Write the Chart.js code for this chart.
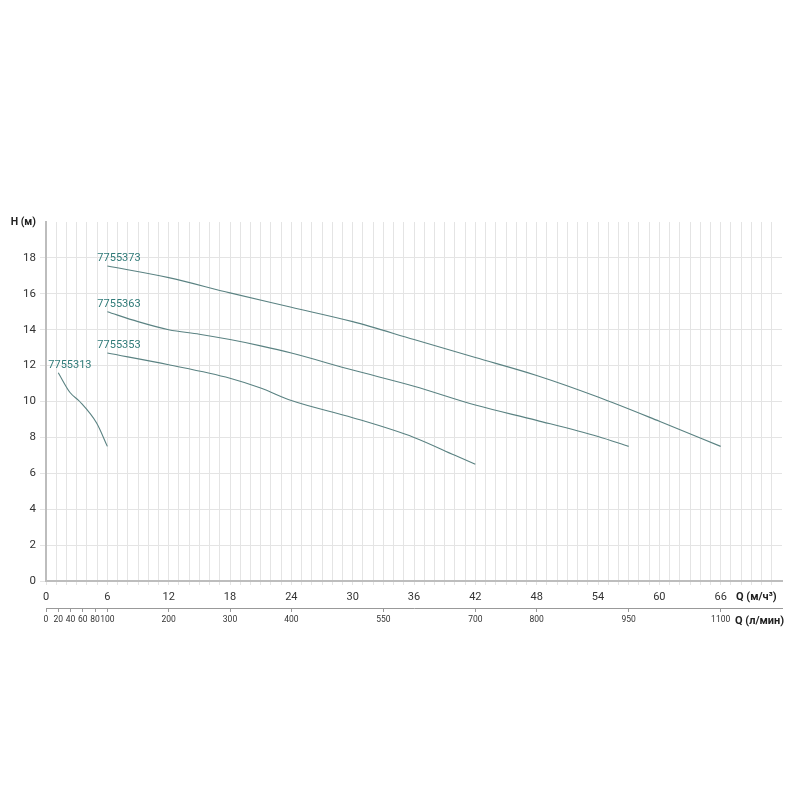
<!DOCTYPE html>
<html>
<head>
  <meta charset="utf-8" />
  <title>H-Q curves</title>
  <script src="https://cdn.jsdelivr.net/npm/chart.js"></script>
  <style>
    body { margin: 0; background: #fff; }
  </style>
</head>
<body>
  <canvas id="pumpChart" width="800" height="800"></canvas>
<script>
// flow in m3/h, head in m
const models = ['7755373', '7755363', '7755353', '7755313'];
const q7755373 = [6, 12, 18, 24, 30, 36, 42, 48, 54, 60, 66];
const h7755373 = [17.55, 16.9, 16.05, 15.25, 14.45, 13.45, 12.45, 11.45, 10.25, 8.9, 7.5];
const q7755363 = [6, 9, 12, 15, 18, 21, 24, 30, 36, 42, 48, 54, 57];
const h7755363 = [15.0, 14.45, 14.0, 13.75, 13.45, 13.1, 12.7, 11.75, 10.85, 9.8, 8.95, 8.05, 7.5];
const q7755353 = [6, 12, 18, 21, 24, 30, 36, 40, 42];
const h7755353 = [12.7, 12.05, 11.3, 10.75, 10.05, 9.1, 8.0, 7.0, 6.5];
const q7755313 = [1.2, 2.35, 3.3, 4.95, 6];
const h7755313 = [11.6, 10.5, 10.0, 8.8, 7.5];

const qTicks = [0, 6, 12, 18, 24, 30, 36, 42, 48, 54, 60, 66];
const hTicks = [0, 2, 4, 6, 8, 10, 12, 14, 16, 18];
const lpmTicks = [0, 20, 40, 60, 80, 100, 200, 300, 400, 550, 700, 800, 950, 1100];

const FONT = 'Roboto, "Noto Sans", Arial, sans-serif';
const lineColor = '#5a8282';
const labelColor = '#2f7a78';
const gridColor = '#e4e4e4';
const axisColor = '#bdbdbd';

function zip(qs, hs) { return qs.map((q, i) => ({ x: q, y: hs[i] })); }
function tickIs(c, v) { return !!(c && c.tick && c.tick.value === v); }
const series = [[q7755373, h7755373], [q7755363, h7755363], [q7755353, h7755353], [q7755313, h7755313]];

const curveLabels = {
  id: 'curveLabels',
  afterDatasetsDraw(chart) {
    const ctx = chart.ctx;
    ctx.save();
    ctx.font = '11px ' + FONT;
    ctx.fillStyle = labelColor;
    ctx.textAlign = 'left';
    ctx.textBaseline = 'middle';
    chart.data.datasets.forEach((ds, i) => {
      const p = chart.getDatasetMeta(i).data[0];
      ctx.fillText(ds.label, p.x - 10, p.y - 8);
    });
    // unit titles at the right end of both flow axes
    const a = chart.chartArea;
    ctx.font = 'bold 11px ' + FONT;
    ctx.fillStyle = '#222';
    ctx.fillText('Q (м/ч³)', a.right - 46, chart.scales.x.top + 16);
    ctx.fillText('Q (л/мин)', a.right - 47, chart.scales.x2.top + 13);
    ctx.restore();
  }
};

new Chart(document.getElementById('pumpChart'), {
  type: 'line',
  data: {
    datasets: models.map((m, i) => ({
      label: m,
      data: zip(series[i][0], series[i][1]),
      borderColor: lineColor,
      borderWidth: 1.1,
      pointRadius: 0,
      fill: false,
      cubicInterpolationMode: 'monotone'
    }))
  },
  options: {
    responsive: false,
    animation: false,
    events: [],
    layout: { padding: { top: 222, left: 0, right: 18, bottom: 167 } },
    plugins: { legend: { display: false }, tooltip: { enabled: false } },
    scales: {
      x: {
        type: 'linear',
        position: 'bottom',
        min: 0,
        max: 72,
        afterBuildTicks: s => { s.ticks = Array.from({ length: 73 }, (_, i) => ({ value: i })); },
        afterFit: s => { s.height = 27; },
        ticks: {
          autoSkip: false,
          maxRotation: 0,
          padding: 6,
          color: '#333',
          font: { family: FONT, size: 11 },
          callback: v => qTicks.includes(v) ? String(v) : ''
        },
        grid: {
          color: c => tickIs(c, 72) ? 'rgba(0,0,0,0)' : gridColor,
          tickLength: 4,
          lineWidth: 1
        },
        border: { color: axisColor, width: 2 }
      },
      x2: {
        type: 'linear',
        position: 'bottom',
        min: 0,
        max: 72,
        afterBuildTicks: s => { s.ticks = lpmTicks.map(v => ({ value: v * 60 / 1000 })); },
        afterFit: s => { s.height = 25; },
        ticks: {
          autoSkip: false,
          maxRotation: 0,
          padding: 3,
          color: '#333',
          font: { family: FONT, size: 8.5 },
          callback: v => String(Math.round(v * 1000 / 60))
        },
        grid: { drawOnChartArea: false, tickLength: 4, color: '#999' },
        border: { color: '#999', width: 1 }
      },
      y: {
        min: 0,
        max: 20,
        afterBuildTicks: s => { s.ticks = hTicks.concat([20]).map(v => ({ value: v })); },
        afterFit: s => { s.width = 46; },
        ticks: {
          padding: 4,
          color: c => tickIs(c, 20) ? '#222' : '#333',
          font: c => tickIs(c, 20)
            ? { family: FONT, size: 10.5, weight: 'bold' }
            : { family: FONT, size: 11.5, weight: 'normal' },
          callback: v => v === 20 ? 'H (м)' : String(v)
        },
        grid: {
          color: c => tickIs(c, 20) ? 'rgba(0,0,0,0)' : gridColor,
          tickLength: 6
        },
        border: { color: axisColor, width: 2 }
      }
    }
  },
  plugins: [curveLabels]
});
</script>
</body>
</html>
